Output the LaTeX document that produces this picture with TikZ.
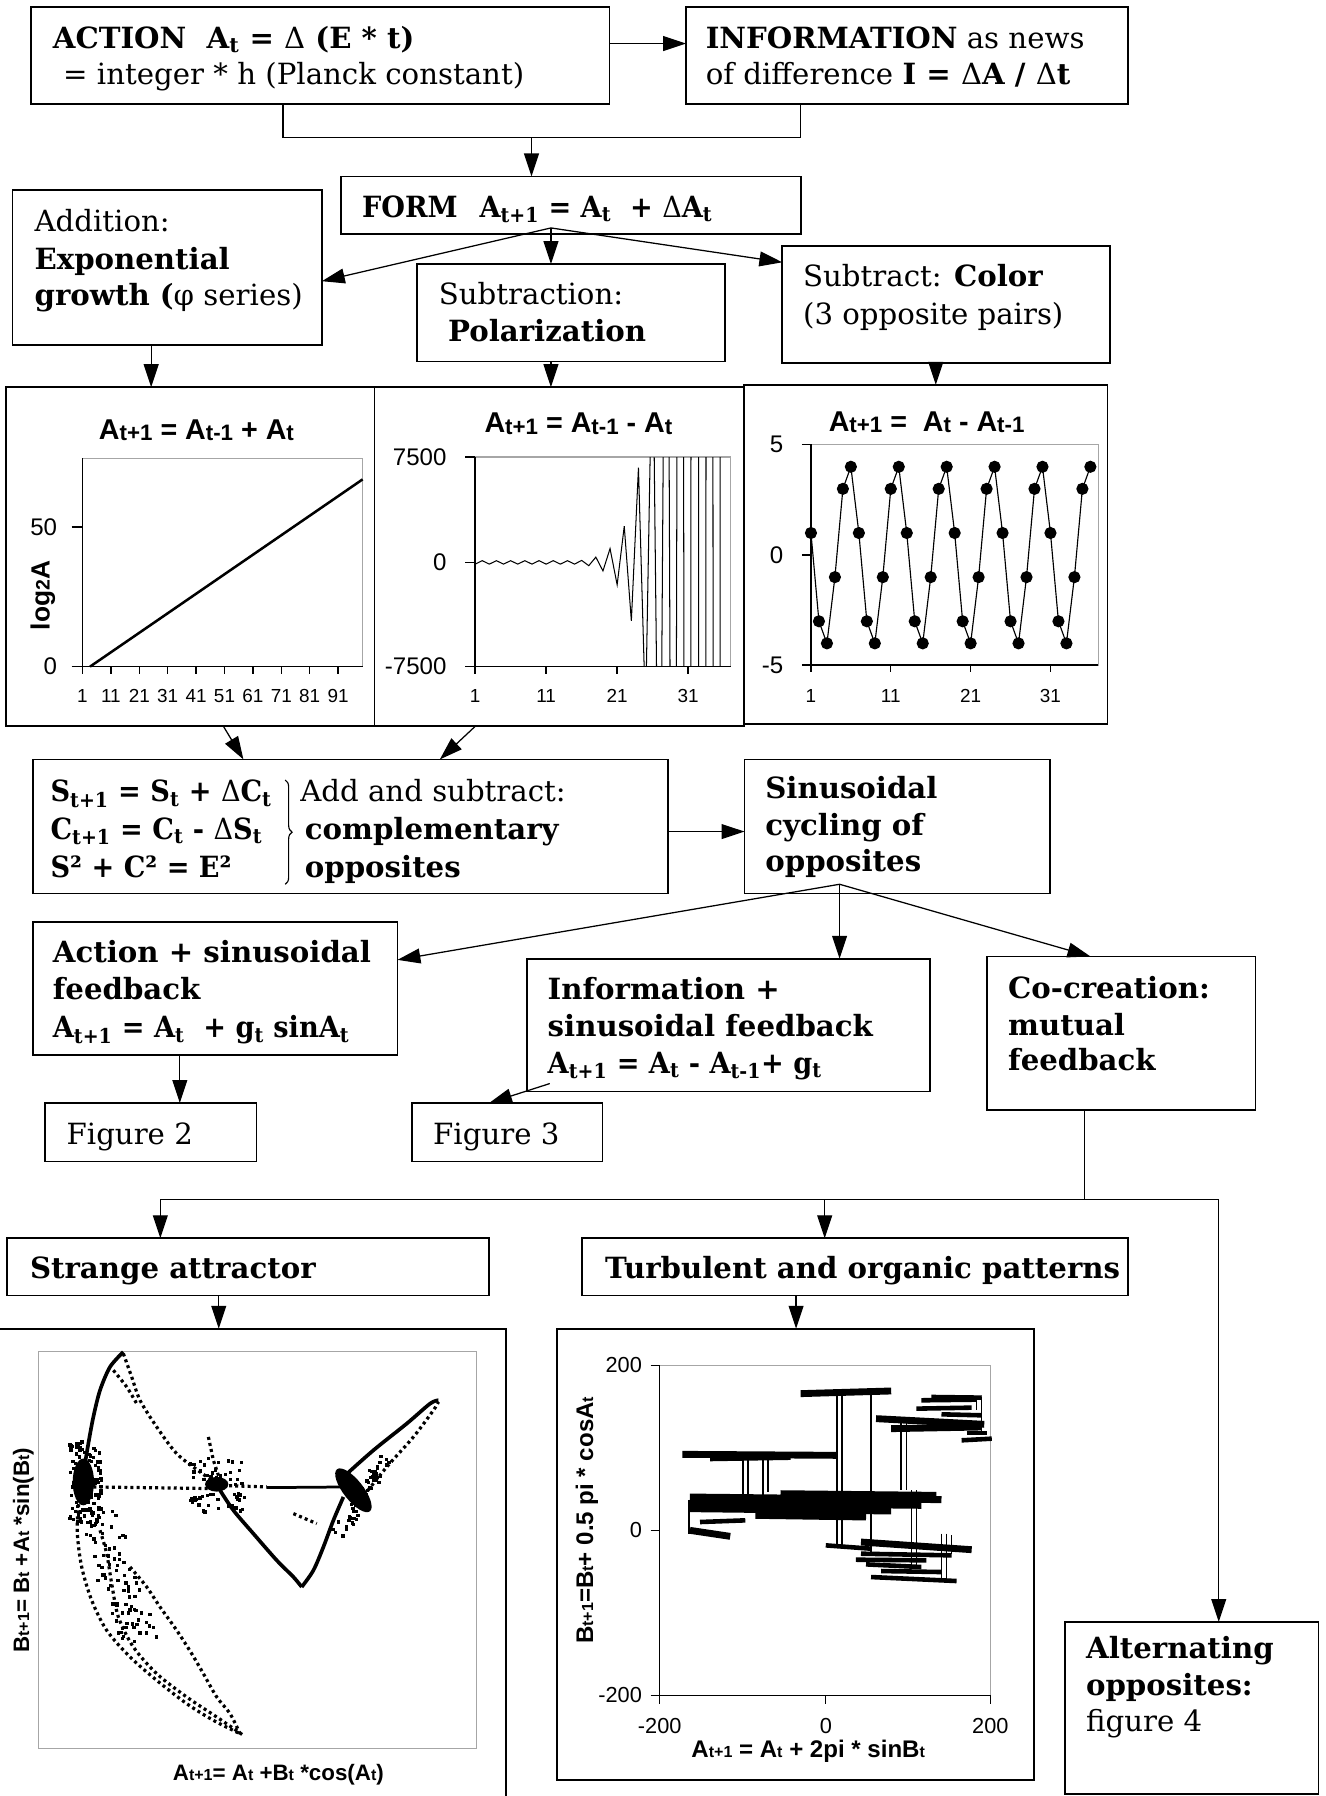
\documentclass[tikz,border=0pt]{standalone}
\usepackage{fontspec}
\setmainfont{DejaVu Serif}
\newfontfamily\chartfont{Liberation Sans}
\usetikzlibrary{arrows.meta,decorations.pathreplacing}
\newcommand{\sbs}[1]{\textsubscript{#1}}
\newcommand{\dlt}{{\normalfont Δ}}
\newcommand{\csub}[1]{{\fontsize{19.5}{19.5}\selectfont\raisebox{-1pt}{#1}}}
\newcommand{\tsub}[1]{{\fontsize{14}{14}\selectfont #1}}
\newcommand{\eqline}[1]{\scalebox{0.93}[1]{#1}}

\tikzset{
  box/.style={draw, line width=1.5pt, inner sep=0pt, outer sep=0pt, anchor=north west},
  txt/.style={anchor=base west, inner sep=0pt, font=\fontsize{25.5}{30}\selectfont},
  arr/.style={-{Triangle[length=20pt,width=13pt]}, line width=1.1pt},
  link/.style={line width=1.1pt},
  frame/.style={draw=gray!70, line width=1pt},
  axis/.style={line width=1.2pt},
  tick/.style={anchor=base, inner sep=0pt, font=\chartfont\fontsize{16.5}{16.5}\selectfont},
  ylab/.style={anchor=east, inner sep=0pt, font=\chartfont\fontsize{21}{21}\selectfont},
  ctitle/.style={anchor=base, inner sep=0pt, font=\chartfont\bfseries\fontsize{25}{25}\selectfont},
  atitle/.style={inner sep=0pt, font=\chartfont\bfseries\fontsize{19.5}{19.5}\selectfont},
  dots/.style={line width=2.8pt, dash pattern=on 2.6pt off 2.8pt},
  dense/.style={line width=3.2pt},
  band/.style={line width=6pt},
  speck/.style={fill=black},
}

\begin{document}
\begin{tikzpicture}[x=1pt, y=-1pt]
\useasboundingbox (0,0) rectangle (1157,1568);

% boxes
\node[box, minimum width=505pt, minimum height=85pt] (action) at (27,6) {};
\node[box, minimum width=386pt, minimum height=85pt] (info) at (599,6) {};
\node[box, minimum width=401pt, minimum height=50pt] (form) at (298,154) {};
\node[box, minimum width=270pt, minimum height=135pt] (addit) at (11,166) {};
\node[box, minimum width=269pt, minimum height=85pt] (subtr) at (364,230.5) {};
\node[box, minimum width=286pt, minimum height=102pt] (color) at (683,215) {};
\node[box, minimum width=322pt, minimum height=296pt] (plotexp) at (5,338) {};
\node[box, minimum width=323pt, minimum height=296pt] (plotpol) at (327,338) {};
\node[box, minimum width=318pt, minimum height=296pt] (plotcol) at (649,336) {};
\node[box, minimum width=554pt, minimum height=117pt] (scbox) at (29,663) {};
\node[box, minimum width=267pt, minimum height=117pt] (sinus) at (650,663) {};
\node[box, minimum width=318pt, minimum height=116pt] (actfb) at (29,805) {};
\node[box, minimum width=352pt, minimum height=116pt] (inffb) at (460,837) {};
\node[box, minimum width=234pt, minimum height=134pt] (cocre) at (862,835) {};
\node[box, minimum width=185pt, minimum height=51pt] (fig2) at (39,963) {};
\node[box, minimum width=166pt, minimum height=51pt] (fig3) at (360,963) {};
\node[box, minimum width=421pt, minimum height=50pt] (strange) at (6,1081) {};
\node[box, minimum width=477pt, minimum height=50pt] (turb) at (508,1081) {};
\node[box, minimum width=452pt, minimum height=460pt] (plotstr) at (-10,1160) {};
\node[box, minimum width=417pt, minimum height=394pt] (plotturb) at (486,1160) {};
\node[box, minimum width=221pt, minimum height=150pt] (altern) at (930,1416) {};

% box texts
\node[txt] (action1) at (46,42) {\textbf{ACTION\ \ A\sbs{t} = \dlt\ (E * t)}};
\node[txt] (action2) at (55,74) {= integer * h (Planck constant)};
\node[txt] (info1) at (616,42) {\textbf{INFORMATION} as news};
\node[txt] (info2) at (616,74) {of difference \textbf{I = \dlt A / \dlt t}};
\node[txt] (form1) at (316,190) {\eqline{\textbf{FORM\hspace{0.8em}A\sbs{t+1} = A\sbs{t}\ \ + \dlt A\sbs{t}}}};
\node[txt] (addit1) at (30,202) {Addition:};
\node[txt] (addit2) at (30,235) {\textbf{Exponential}};
\node[txt] (addit3) at (30,267) {\textbf{growth (}φ series)};
\node[txt] (subtr1) at (383,266) {Subtraction:};
\node[txt] (subtr2) at (391,298) {\textbf{Polarization}};
\node[txt] (color1) at (701,250) {Subtract: \textbf{Color}};
\node[txt] (color2) at (701,283) {(3 opposite pairs)};
\node[txt] (sc1) at (44,700) {\eqline{\textbf{S\sbs{t+1} = S\sbs{t}\ + \dlt C\sbs{t}}}};
\node[txt] (sc2) at (44,733) {\eqline{\textbf{C\sbs{t+1} = C\sbs{t}\ - \dlt S\sbs{t}}}};
\node[txt] (sc3) at (44,766) {\eqline{\textbf{S² + C² = E²}}};
\node[txt] (sc4) at (262,700) {Add and subtract:};
\node[txt] (sc5) at (266,733) {\textbf{complementary}};
\node[txt] (sc6) at (266,766) {\textbf{opposites}};
\draw[decorate, decoration={brace, amplitude=6pt}, line width=1pt] (249,681) -- (249,772);
\node[txt] (sinus1) at (668,697) {\textbf{Sinusoidal}};
\node[txt] (sinus2) at (668,729) {\textbf{cycling of}};
\node[txt] (sinus3) at (668,761) {\textbf{opposites}};
\node[txt] (actfb1) at (46,840) {\textbf{Action + sinusoidal}};
\node[txt] (actfb2) at (46,873) {\textbf{feedback}};
\node[txt] (actfb3) at (46,906) {\eqline{\textbf{A\sbs{t+1} = A\sbs{t}\ \ + g\sbs{t} sinA\sbs{t}}}};
\node[txt] (inffb1) at (478,873) {\textbf{Information +}};
\node[txt] (inffb2) at (478,905) {\textbf{sinusoidal feedback}};
\node[txt] (inffb3) at (478,937) {\eqline{\textbf{A\sbs{t+1} = A\sbs{t} - A\sbs{t-1}+ g\sbs{t}}}};
\node[txt] (cocre1) at (880,872) {\textbf{Co-creation:}};
\node[txt] (cocre2) at (880,904) {\textbf{mutual}};
\node[txt] (cocre3) at (880,935) {\textbf{feedback}};
\node[txt] (fig2t) at (58,999) {Figure 2};
\node[txt] (fig3t) at (378,999) {Figure 3};
\node[txt] (strange1) at (26,1116) {\textbf{Strange attractor}};
\node[txt] (turb1) at (528,1116) {\textbf{Turbulent and organic patterns}};
\node[txt] (altern1) at (948,1448) {\textbf{Alternating}};
\node[txt] (altern2) at (948,1480) {\textbf{opposites:}};
\node[txt] (altern3) at (948,1512) {figure 4};

% connectors
\coordinate (join) at (464,120);
\coordinate (fork) at (481,199);
\coordinate (fork2) at (733,772);
\coordinate (bus) at (947,1047);
\coordinate (tap) at (720,1047);
\draw[arr] ([yshift=10.5pt]action.east) -- ([yshift=10.5pt]info.west);
\draw[link] ([xshift=220pt]action.south west) |- (join) -| ([xshift=100pt]info.south west);
\draw[arr] (join) -- (join |- form.north);
\draw[arr] (fork) -- ([yshift=-12pt]addit.east);
\draw[arr] (fork) -- (fork |- subtr.north);
\draw[arr] (fork) -- ([yshift=-14pt]color.north west);
\draw[arr] ([xshift=121pt]addit.south west) -- ([xshift=127pt]plotexp.north west);
\draw[arr] ([xshift=117pt]subtr.south west) -- ([xshift=154pt]plotpol.north west);
\draw[arr] ([xshift=134pt]color.south west) -- ([xshift=168pt]plotcol.north west);
\draw[arr] ([xshift=190pt]plotexp.south west) -- ([xshift=183.5pt]scbox.north west);
\draw[arr] ([xshift=88pt]plotpol.south west) -- ([xshift=355pt]scbox.north west);
\draw[arr] ([yshift=-4.5pt]scbox.east) -- ([yshift=-4.5pt]sinus.west);
\draw[arr] (fork2) -- ([yshift=-33pt]actfb.north east);
\draw[arr] (fork2) -- (fork2 |- inffb.north);
\draw[arr] (fork2) -- ([xshift=90pt]cocre.north west);
\draw[arr] ([xshift=128pt]actfb.south west) -- ([xshift=118pt]fig2.north west);
\draw[arr] ([xshift=20pt,yshift=7pt]inffb.south west) -- ([xshift=67pt]fig3.north west);
\draw[link] ([xshift=85pt]cocre.south west) -- (bus);
\draw[arr] (bus) -| ([xshift=134pt]strange.north west);
\draw[arr] (bus) -| ([xshift=134pt]altern.north west);
\draw[arr] (tap) -- (tap |- turb.north);
\draw[arr] ([xshift=185pt]strange.south west) -- ([xshift=201pt]plotstr.north west);
\draw[arr] ([xshift=187pt]turb.south west) -- ([xshift=209pt]plotturb.north west);

% chart 1: exponential
\node[ctitle] (c1title) at (171.5,383.6) {A\csub{t+1} = A\csub{t-1} + A\csub{t}};
\draw[frame] (72,400) rectangle (316.6,582);
\draw[axis] (72,400) -- (72,582) -- (316.6,582);
\draw[axis] (62.6,460) -- (72,460) (62.6,582) -- (72,582);
\foreach \t [count=\i] in {1,11,...,91} {
  \draw[axis] ({72+2.48*(\t-1)},582) -- ({72+2.48*(\t-1)},588);
  \node[tick] (c1x\i) at ({72+2.48*(\t-1)},613) {\t};
}
\node[ylab] (c1y50) at (50,460) {50};
\node[ylab] (c1y0) at (50,582) {0};
\node[rotate=90, inner sep=0pt, font=\chartfont\bfseries\fontsize{23}{23}\selectfont] (c1lab) at (37.5,520) {log{\fontsize{17}{17}\selectfont 2}A};
\draw[line width=2.2pt] (78.6,582) -- (316.6,418.5);

% chart 2: polarization
\node[ctitle] (c2title) at (505,378) {A\csub{t+1} = A\csub{t-1} - A\csub{t}};
\draw[frame] (414.8,399) rectangle (638,582);
\draw[axis] (414.8,399) -- (414.8,582) -- (638,582);
\foreach \v in {399,491,582} \draw[axis] (406,\v) -- (414.8,\v);
\foreach \t [count=\i] in {1,11,21,31} {
  \draw[axis] ({414.8+6.2*(\t-1)},582) -- ({414.8+6.2*(\t-1)},588);
  \node[tick] (c2x\i) at ({414.8+6.2*(\t-1)},613) {\t};
}
\node[ylab] (c2ytop) at (390,399) {7500};
\node[ylab] (c2ymid) at (390,491) {0};
\node[ylab] (c2ybot) at (390,582) {-7500};
\begin{scope}
\clip (414.8,399) rectangle (638,582);
\draw[line width=0.9pt] plot[domain=1:36, samples=36]
  ({414.8+6.2*(\x-1)}, {491-cos(180*\x)*max(1.5,91*pow(1.618,min(8,\x-24.2)))});
\end{scope}

% chart 3: color
\node[ctitle] (c3title) at (809,377) {A\csub{t+1} =\ \ A\csub{t} - A\csub{t-1}};
\draw[frame] (708,388) rectangle (959,580.7);
\draw[axis] (708,388) -- (708,580.7) -- (959,580.7);
\foreach \v in {388,484.6,580.7} \draw[axis] (700,\v) -- (708,\v);
\foreach \t [count=\i] in {1,11,21,31} {
  \draw[axis] ({708+6.97*(\t-1)},580.7) -- ({708+6.97*(\t-1)},587);
  \node[tick] (c3x\i) at ({708+6.97*(\t-1)},613) {\t};
}
\node[ylab] (c3ytop) at (684,388) {5};
\node[ylab] (c3ymid) at (684,484.6) {0};
\node[ylab] (c3ybot) at (684,580.7) {-5};
\draw[line width=1pt] plot[mark=*, mark size=4.8pt, domain=1:36, samples=36]
  ({708+6.97*(\x-1)}, {484.6-19.27*(4*cos(60*\x)-1.1547*sin(60*\x))});

% chart 4: strange attractor
\node[atitle, rotate=90] (c4ylab) at (20.4,1353.5) {B\tsub{t+1}= B\tsub{t} +A\tsub{t} *sin(B\tsub{t})};
\node[atitle, anchor=base] (c4xlab) at (243,1554.3) {A\tsub{t+1}= A\tsub{t} +B\tsub{t} *cos(A\tsub{t})};
\begin{scope}[shift={(0,1135.17)}, scale=0.29107]
\draw[frame] (115,155) rectangle (1428,1345);
\pgfmathsetseed{4711}
\fill (250,545) ellipse [x radius=32, y radius=70];
\fill (650,552) ellipse [x radius=35, y radius=22];
\fill[rotate around={-52:(1060,570)}] (1060,570) ellipse [x radius=80, y radius=30];
\foreach \i in {1,...,110} {
  \pgfmathsetmacro{\px}{205+95*rnd}
  \pgfmathsetmacro{\py}{420+250*rnd}
  \fill[speck] (\px,\py) rectangle ++(10,10);
}
\foreach \i in {1,...,90} {
  \pgfmathsetmacro{\py}{600+420*rnd}
  \pgfmathsetmacro{\px}{215+(\py-600)*0.3+130*rnd}
  \fill[speck] (\px,\py) rectangle ++(10,10);
}
\foreach \i in {1,...,60} {
  \pgfmathsetmacro{\px}{560+170*rnd}
  \pgfmathsetmacro{\py}{470+160*rnd}
  \fill[speck] (\px,\py) rectangle ++(10,10);
}
\foreach \i in {1,...,60} {
  \pgfmathsetmacro{\s}{rnd}
  \pgfmathsetmacro{\px}{990+140*\s+40*rnd}
  \pgfmathsetmacro{\py}{680-230*\s+40*rnd}
  \fill[speck] (\px,\py) rectangle ++(10,10);
}
\draw[dense] plot[smooth] coordinates {(370,155) (330,200) (300,270) (280,350) (265,430) (250,520)};
\draw[dots] plot[smooth] coordinates {(250,520) (235,620) (232,700) (245,800) (275,900) (320,990) (390,1070) (470,1140) (560,1210) (640,1260) (720,1300)};
\draw[dots] plot[smooth] coordinates {(300,690) (320,760) (335,850) (355,950) (400,1040) (470,1120) (560,1190) (650,1250) (730,1305)};
\draw[dots] plot[smooth] coordinates {(390,800) (440,860) (480,920) (530,990) (575,1060) (610,1120) (650,1190) (690,1240) (720,1300)};
\draw[dots] plot[smooth] coordinates {(370,160) (395,230) (420,300) (470,380) (530,460) (600,515) (650,550)};
\draw[dots] plot[smooth] coordinates {(340,210) (380,260) (410,310)};
\draw[dots] (280,560) -- (650,565);
\draw[dots] (650,555) -- (800,560);
\draw[line width=2.4pt] (800,562) -- (1040,560);
\draw[dense] plot[smooth] coordinates {(1030,530) (1120,450) (1220,370) (1290,310) (1315,300)};
\draw[dots] plot[smooth] coordinates {(1080,600) (1160,500) (1240,410) (1300,330) (1315,305)};
\draw[dense] plot[smooth] coordinates {(1030,590) (1000,660) (970,740) (940,810) (905,860)};
\draw[dense] plot[smooth] coordinates {(660,570) (700,630) (760,700) (830,780) (880,830) (905,860)};
\draw[dots] (880,640) -- (950,670);
\draw[dots] (625,410) -- (640,480) -- (660,540);
\end{scope}

% chart 5: turbulent patterns
\node[ylab, font=\chartfont\fontsize{19}{19}\selectfont] (c5ytop) at (560.6,1192) {200};
\node[ylab, font=\chartfont\fontsize{19}{19}\selectfont] (c5ymid) at (560.6,1336) {0};
\node[ylab, font=\chartfont\fontsize{19}{19}\selectfont] (c5ybot) at (560.6,1480.2) {-200};
\node[tick, font=\chartfont\fontsize{19}{19}\selectfont] (c5xl) at (576,1513.6) {-200};
\node[tick, font=\chartfont\fontsize{19}{19}\selectfont] (c5xm) at (721,1513.6) {0};
\node[tick, font=\chartfont\fontsize{19}{19}\selectfont] (c5xr) at (864.6,1513.6) {200};
\node[atitle, anchor=base, font=\chartfont\bfseries\fontsize{21}{21}\selectfont] (c5xlab) at (705.6,1534) {A\tsub{t+1} = A\tsub{t} + 2pi * sinB\tsub{t}};
\node[atitle, rotate=90, font=\chartfont\bfseries\fontsize{21}{21}\selectfont] (c5ylab) at (512.3,1327.3) {B\tsub{t+1}=B\tsub{t}+ 0.5 pi * cosA\tsub{t}};
\begin{scope}[shift={(470.6,1135.2)}, xscale=0.4392, yscale=0.2911]
\draw[frame] (240,195) -- (897,195) -- (897,1185);
\draw[axis] (240,195) -- (240,1185) -- (897,1185);
\foreach \v in {195,690,1185} \draw[axis] (222,\v) -- (240,\v);
\foreach \u in {240,570,897} \draw[axis] (\u,1185) -- (\u,1210);
\draw[band] (520,280) -- (700,272);
\draw[band] (670,355) -- (885,372);
\draw[band] (700,385) -- (880,380);
\draw[line width=4pt] (760,300) -- (870,298);
\draw[line width=4pt] (780,290) -- (880,292);
\draw[line width=4pt] (750,325) -- (860,322);
\draw[line width=4pt] (800,342) -- (880,345);
\draw[line width=4pt] (850,398) -- (890,398);
\draw[line width=4pt] (840,420) -- (900,415);
\draw[band] (285,462) -- (590,465);
\draw[line width=4pt] (340,476) -- (500,472);
\draw[band] (480,580) -- (790,585);
\draw[band] (300,590) -- (800,598);
\draw[band] (300,608) -- (760,615);
\draw[band] (300,625) -- (700,632);
\draw[band] (430,645) -- (650,650);
\draw[band] (300,690) -- (380,708);
\draw[line width=4pt] (320,665) -- (410,660);
\draw[line width=4pt] (570,735) -- (660,745);
\draw[band] (640,725) -- (860,748);
\draw[line width=4pt] (640,760) -- (820,765);
\draw[line width=4pt] (630,778) -- (770,780);
\draw[line width=4pt] (650,792) -- (760,800);
\draw[line width=4pt] (680,812) -- (800,815);
\draw[line width=4pt] (660,830) -- (830,842);
\foreach \u/\a/\b in {592/280/740, 602/280/740, 660/265/760, 720/350/570, 730/350/570,
  405/470/590, 415/470/590, 445/470/590, 455/480/575, 740/570/800, 750/570/800,
  800/700/840, 810/700/840, 298/600/700, 870/290/330, 880/290/400, 820/705/760}
  \draw[line width=1.3pt] (\u,\a) -- (\u,\b);
\end{scope}
\end{tikzpicture}
\end{document}
